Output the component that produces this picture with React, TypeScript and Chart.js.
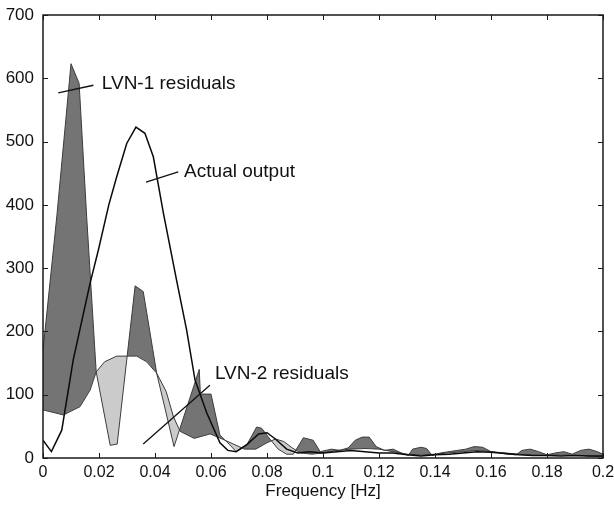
import React, { useEffect, useRef } from "react";
import { Chart, registerables } from "chart.js";

Chart.register(...registerables);

// ---- data ----
const lvn1Freq = [0, 0.005, 0.01, 0.0129, 0.0156, 0.019, 0.024, 0.0265, 0.0329, 0.0358, 0.0406, 0.0468, 0.0558, 0.0562, 0.06, 0.0632, 0.066, 0.069, 0.0727, 0.0763, 0.0781, 0.081, 0.084, 0.087, 0.0894, 0.093, 0.0965, 0.099, 0.103, 0.106, 0.109, 0.1115, 0.114, 0.1165, 0.119, 0.122, 0.125, 0.128, 0.1305, 0.132, 0.135, 0.137, 0.139, 0.142, 0.145, 0.148, 0.151, 0.154, 0.157, 0.16, 0.163, 0.166, 0.169, 0.171, 0.174, 0.177, 0.18, 0.183, 0.186, 0.189, 0.192, 0.195, 0.198, 0.2];
const lvn1Values = [170, 385, 623, 592, 381, 136, 20, 22, 272, 263, 134, 18, 140, 101, 101, 36, 24, 10, 20, 49, 47, 30, 14, 6, 6, 32, 28, 10, 14, 12, 16, 28, 33, 33, 18, 12, 14, 8, 4, 14, 17, 15, 4, 8, 10, 12, 14, 18, 17, 10, 8, 6, 5, 12, 14, 10, 5, 8, 10, 6, 12, 14, 10, 6];

const lvn2Freq = [0, 0.0073, 0.0132, 0.0168, 0.019, 0.022, 0.0263, 0.0335, 0.037, 0.0406, 0.044, 0.0466, 0.049, 0.054, 0.0597, 0.064, 0.068, 0.072, 0.076, 0.08, 0.083, 0.086, 0.089, 0.092, 0.096, 0.1, 0.105, 0.11, 0.115, 0.12, 0.125, 0.13, 0.135, 0.14, 0.145, 0.15, 0.155, 0.16, 0.165, 0.17, 0.175, 0.18, 0.185, 0.19, 0.195, 0.2];
const lvn2Values = [76, 68, 81, 107, 136, 152, 161, 161, 152, 134, 105, 65, 42, 31, 38, 30, 22, 14, 14, 24, 30, 26, 16, 8, 6, 8, 12, 14, 15, 14, 10, 6, 5, 6, 8, 10, 12, 10, 8, 6, 4, 4, 5, 4, 3, 2];

const actualFreq = [0, 0.003, 0.0067, 0.0108, 0.0168, 0.0198, 0.0235, 0.0263, 0.0299, 0.0332, 0.0364, 0.0394, 0.043, 0.0477, 0.0513, 0.0543, 0.0585, 0.0632, 0.066, 0.069, 0.073, 0.077, 0.08, 0.083, 0.087, 0.091, 0.095, 0.1, 0.105, 0.11, 0.115, 0.12, 0.125, 0.13, 0.135, 0.14, 0.145, 0.15, 0.155, 0.16, 0.165, 0.17, 0.175, 0.18, 0.185, 0.19, 0.195, 0.2];
const actualValues = [28, 10, 44, 155, 276, 329, 400, 444, 497, 523, 513, 476, 387, 281, 202, 123, 71, 24, 12, 10, 22, 38, 40, 30, 14, 8, 10, 8, 10, 12, 10, 8, 8, 5, 3, 5, 6, 8, 10, 9, 7, 5, 4, 4, 3, 4, 3, 3];

const xTickValues = [0, 0.02, 0.04, 0.06, 0.08, 0.1, 0.12, 0.14, 0.16, 0.18, 0.2];
const xTickLabels = ["0", "0.02", "0.04", "0.06", "0.08", "0.1", "0.12", "0.14", "0.16", "0.18", "0.2"];
const yTickValues = [0, 100, 200, 300, 400, 500, 600, 700];
const xAxisTitle = "Frequency [Hz]";

const annotationLabels = ["LVN-1 residuals", "Actual output", "LVN-2 residuals"];
const annotationTextAt = [[0.021, 591], [0.0504, 452], [0.0614, 133]];
const annotationLineFrom = [[0.00546, 577], [0.0368, 436], [0.0358, 22]];
const annotationLineTo = [[0.018, 589], [0.0483, 452], [0.0596, 115]];

const FONT = "'Liberation Sans', Arial, Helvetica, sans-serif";

const toXY = (xs: number[], ys: number[]) => xs.map((x, i) => ({ x, y: ys[i] }));

const framePlugin = {
  id: "matlabFrame",
  afterDraw(chart: any) {
    const { ctx, chartArea: a, scales } = chart;
    const xs = scales.x;
    const ys = scales.y;
    ctx.save();
    ctx.strokeStyle = "#1a1a1a";
    ctx.lineWidth = 1;
    const tl = 5;
    ctx.beginPath();
    xTickValues.forEach((v) => {
      const px = Math.round(xs.getPixelForValue(v)) + 0.5;
      ctx.moveTo(px, a.bottom);
      ctx.lineTo(px, a.bottom - tl);
      ctx.moveTo(px, a.top);
      ctx.lineTo(px, a.top + tl);
    });
    yTickValues.forEach((v) => {
      const py = Math.round(ys.getPixelForValue(v)) + 0.5;
      ctx.moveTo(a.left, py);
      ctx.lineTo(a.left + tl, py);
      ctx.moveTo(a.right, py);
      ctx.lineTo(a.right - tl, py);
    });
    ctx.stroke();
    ctx.lineWidth = 1.5;
    ctx.strokeRect(a.left, a.top, a.right - a.left, a.bottom - a.top);

    // annotations
    ctx.lineWidth = 1.3;
    ctx.strokeStyle = "#111";
    ctx.beginPath();
    annotationLineFrom.forEach((p, i) => {
      const q = annotationLineTo[i];
      ctx.moveTo(xs.getPixelForValue(p[0]), ys.getPixelForValue(p[1]));
      ctx.lineTo(xs.getPixelForValue(q[0]), ys.getPixelForValue(q[1]));
    });
    ctx.stroke();
    ctx.fillStyle = "#111";
    ctx.font = `19px ${FONT}`;
    ctx.textAlign = "left";
    ctx.textBaseline = "middle";
    annotationLabels.forEach((t, i) => {
      const p = annotationTextAt[i];
      ctx.fillText(t, xs.getPixelForValue(p[0]), ys.getPixelForValue(p[1]));
    });
    ctx.restore();
  },
};

export default function App() {
  const ref = useRef<HTMLCanvasElement | null>(null);
  useEffect(() => {
    document.body.style.margin = "0";
    const canvas = ref.current!;
    const chart = new Chart(canvas, {
      type: "line",
      data: {
        datasets: [
          {
            label: "Actual output",
            data: toXY(actualFreq, actualValues),
            borderColor: "#0a0a0a",
            borderWidth: 1.5,
            pointRadius: 0,
            tension: 0,
            fill: false,
          },
          {
            label: "LVN-2 residuals",
            data: toXY(lvn2Freq, lvn2Values),
            borderColor: "#3c3c3c",
            borderWidth: 1,
            pointRadius: 0,
            tension: 0,
            fill: false,
          },
          {
            label: "LVN-1 residuals",
            data: toXY(lvn1Freq, lvn1Values),
            borderColor: "#3c3c3c",
            borderWidth: 1,
            pointRadius: 0,
            tension: 0,
            fill: { target: 1, above: "#747474", below: "#cbcbcb" },
          },
        ],
      },
      options: {
        responsive: false,
        animation: false,
        events: [],
        layout: { padding: { left: 0, right: 11, top: 15, bottom: 0 } },
        plugins: {
          legend: { display: false },
          tooltip: { enabled: false },
          title: { display: false },
        },
        scales: {
          x: {
            type: "linear",
            min: 0,
            max: 0.2,
            grid: { display: false, drawTicks: false },
            border: { display: false },
            afterBuildTicks: (s: any) => {
              s.ticks = xTickValues.map((v) => ({ value: v }));
            },
            afterFit: (s: any) => {
              s.height = 50;
              s.paddingLeft = 0;
              s.paddingRight = 0;
            },
            ticks: {
              autoSkip: false,
              maxRotation: 0,
              padding: 5,
              color: "#111",
              font: { family: FONT, size: 16 },
              callback: (_v: any, i: number) => xTickLabels[i],
            },
            title: {
              display: true,
              text: xAxisTitle,
              color: "#111",
              font: { family: FONT, size: 17 },
              padding: { top: 0, bottom: 6 },
            },
          },
          y: {
            type: "linear",
            min: 0,
            max: 700,
            grid: { display: false, drawTicks: false },
            border: { display: false },
            afterBuildTicks: (s: any) => {
              s.ticks = yTickValues.map((v) => ({ value: v }));
            },
            afterFit: (s: any) => {
              s.width = 43;
              s.paddingTop = 0;
              s.paddingBottom = 0;
            },
            ticks: {
              padding: 9,
              color: "#111",
              font: { family: FONT, size: 17 },
              callback: (v: any) => String(v),
            },
          },
        },
      },
      plugins: [framePlugin],
    });
    return () => chart.destroy();
  }, []);
  return (
    <canvas
      ref={ref}
      width={614}
      height={508}
      style={{ display: "block", width: 614, height: 508 }}
    />
  );
}
